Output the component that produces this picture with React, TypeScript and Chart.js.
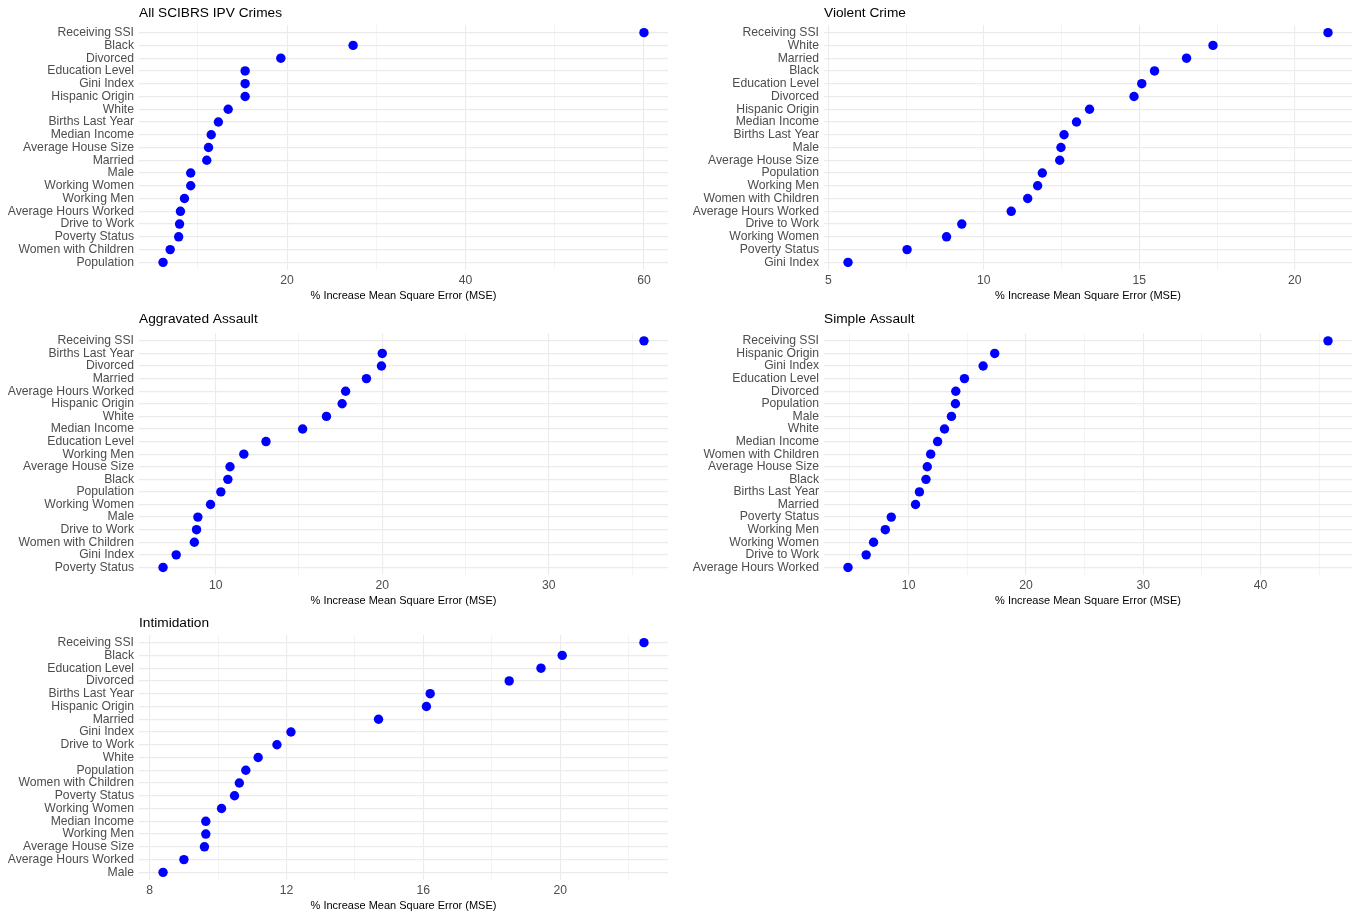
import React, { useEffect, useRef } from "react";
import { Chart, registerables } from "chart.js";

Chart.register(...registerables);

// ---------- Data ----------
const allCrimesCats = ["Receiving SSI", "Black", "Divorced", "Education Level", "Gini Index", "Hispanic Origin", "White", "Births Last Year", "Median Income", "Average House Size", "Married", "Male", "Working Women", "Working Men", "Average Hours Worked", "Drive to Work", "Poverty Status", "Women with Children", "Population"];
const allCrimesVals = [60.0, 27.4, 19.3, 15.3, 15.3, 15.3, 13.4, 12.3, 11.5, 11.2, 11.0, 9.2, 9.2, 8.5, 8.05, 7.95, 7.85, 6.9, 6.1];

const violentCats = ["Receiving SSI", "White", "Married", "Black", "Education Level", "Divorced", "Hispanic Origin", "Median Income", "Births Last Year", "Male", "Average House Size", "Population", "Working Men", "Women with Children", "Average Hours Worked", "Drive to Work", "Working Women", "Poverty Status", "Gini Index"];
const violentVals = [21.07, 17.37, 16.52, 15.49, 15.08, 14.83, 13.4, 12.98, 12.58, 12.48, 12.44, 11.88, 11.73, 11.41, 10.88, 9.29, 8.8, 7.53, 5.63];

const aggravatedCats = ["Receiving SSI", "Births Last Year", "Divorced", "Married", "Average Hours Worked", "Hispanic Origin", "White", "Median Income", "Education Level", "Working Men", "Average House Size", "Black", "Population", "Working Women", "Male", "Drive to Work", "Women with Children", "Gini Index", "Poverty Status"];
const aggravatedVals = [35.71, 20.0, 19.95, 19.05, 17.8, 17.59, 16.65, 15.22, 13.02, 11.69, 10.86, 10.73, 10.31, 9.69, 8.93, 8.85, 8.72, 7.63, 6.84];

const simpleCats = ["Receiving SSI", "Hispanic Origin", "Gini Index", "Education Level", "Divorced", "Population", "Male", "White", "Median Income", "Women with Children", "Average House Size", "Black", "Births Last Year", "Married", "Poverty Status", "Working Men", "Working Women", "Drive to Work", "Average Hours Worked"];
const simpleVals = [45.76, 17.34, 16.35, 14.76, 14.02, 13.99, 13.65, 13.06, 12.47, 11.88, 11.59, 11.48, 10.92, 10.59, 8.52, 8.01, 7.01, 6.38, 4.83];

const intimidationCats = ["Receiving SSI", "Black", "Education Level", "Divorced", "Births Last Year", "Hispanic Origin", "Married", "Gini Index", "Drive to Work", "White", "Population", "Women with Children", "Poverty Status", "Working Women", "Median Income", "Working Men", "Average House Size", "Average Hours Worked", "Male"];
const intimidationVals = [22.45, 20.06, 19.44, 18.51, 16.2, 16.09, 14.69, 12.13, 11.72, 11.17, 10.81, 10.62, 10.48, 10.1, 9.64, 9.64, 9.6, 9.0, 8.39];

const panelTitles = ["All SCIBRS IPV Crimes", "Violent Crime", "Aggravated Assault", "Simple Assault", "Intimidation"];
const majorSteps = [20, 5, 10, 10, 4];
const xAxisTitle = "% Increase Mean Square Error (MSE)";

// ---------- Styles ----------
const FONT = '"Liberation Sans", Arial, Helvetica, sans-serif';
const GRID = "#EBEBEB";
const TEXT_GREY = "#4D4D4D";
const POINT = "#0000FF";

type Layout = { width: number; plotLeft: number; padRight: number; padTop: number; titleGap: number };

const LEFT_ROW: Layout = { width: 680, plotLeft: 139, padRight: 12, padTop: 0, titleGap: 3.56 };
const RIGHT_ROW: Layout = { width: 679, plotLeft: 144, padRight: 7, padTop: 0, titleGap: 3.56 };

function Panel(props: { title: string; cats: string[]; vals: number[]; major: number; layout: Layout }) {
  const ref = useRef<HTMLCanvasElement | null>(null);
  const { title, cats, vals, major, layout } = props;

  useEffect(() => {
    if (!ref.current) return;
    const minor = major / 2;
    const lo = Math.min(...vals);
    const hi = Math.max(...vals);
    const pad = (hi - lo) * 0.05;
    const xMin = lo - pad;
    const xMax = hi + pad;
    const isMajor = (v: number) => Math.abs(v / major - Math.round(v / major)) < 1e-6;
    const xTicks: { value: number }[] = [];
    for (let k = Math.ceil(xMin / minor); k * minor <= xMax; k++) {
      xTicks.push({ value: Math.round(k * minor * 1000) / 1000 });
    }

    const chart = new Chart(ref.current, {
      type: "scatter",
      data: {
        datasets: [
          {
            data: vals.map((v, i) => ({ x: v, y: i })),
            pointRadius: 4.7,
            pointHoverRadius: 4.7,
            pointBackgroundColor: POINT,
            pointBorderWidth: 0,
            borderWidth: 0,
          },
        ],
      },
      options: {
        animation: false,
        responsive: false,
        maintainAspectRatio: false,
        events: [],
        layout: { padding: { left: 0, right: layout.padRight, top: layout.padTop, bottom: 0 } },
        plugins: {
          legend: { display: false },
          tooltip: { enabled: false },
          title: {
            display: true,
            text: title,
            align: "start",
            fullSize: false,
            color: "#000000",
            font: { family: FONT, size: 13.7, weight: "normal" },
            padding: { top: 5, bottom: layout.titleGap },
          },
        },
        scales: {
          x: {
            type: "linear",
            position: "bottom",
            min: xMin,
            max: xMax,
            afterBuildTicks: (s: any) => {
              s.ticks = xTicks.map((t) => ({ value: t.value }));
            },
            afterFit: (s: any) => {
              s.height = 35;
            },
            ticks: {
              autoSkip: false,
              maxRotation: 0,
              padding: 3.5,
              color: TEXT_GREY,
              font: { family: FONT, size: 12.2 },
              callback: (v: any) => (isMajor(Number(v)) ? String(Math.round(Number(v) * 100) / 100) : ""),
            },
            grid: {
              color: GRID,
              drawTicks: false,
              lineWidth: (ctx: any) => (ctx.tick && isMajor(ctx.tick.value) ? 1.1 : 0.55),
            },
            border: { display: false },
            title: {
              display: true,
              text: xAxisTitle,
              color: "#000000",
              font: { family: FONT, size: 11 },
              padding: { top: 0, bottom: 2.5 },
            },
          },
          y: {
            type: "linear",
            reverse: true,
            min: -0.6,
            max: cats.length - 1 + 0.6,
            afterBuildTicks: (s: any) => {
              s.ticks = cats.map((_, i) => ({ value: i }));
            },
            afterFit: (s: any) => {
              s.width = layout.plotLeft;
            },
            ticks: {
              autoSkip: false,
              padding: 5,
              color: TEXT_GREY,
              font: { family: FONT, size: 12.2 },
              callback: (v: any) => cats[Math.round(Number(v))] ?? "",
            },
            grid: { color: GRID, drawTicks: false, lineWidth: 1.2 },
            border: { display: false },
          },
        },
      } as any,
    });
    return () => chart.destroy();
  }, [title, cats, vals, major, layout]);

  return <canvas ref={ref} width={layout.width} height={305} style={{ display: "block", width: layout.width, height: 305 }} />;
}

const ROW2_LEFT: Layout = { ...LEFT_ROW, padTop: 1, titleGap: 5.86 };
const ROW2_RIGHT: Layout = { ...RIGHT_ROW, padTop: 1, titleGap: 5.86 };

export default function App() {
  return (
    <div
      style={{
        position: "absolute",
        left: 0,
        top: 0,
        width: 1359,
        height: 915,
        background: "#ffffff",
        display: "grid",
        gridTemplateColumns: "680px 679px",
        gridTemplateRows: "305px 305px 305px",
        overflow: "hidden",
      }}
    >
      <Panel title={panelTitles[0]} cats={allCrimesCats} vals={allCrimesVals} major={majorSteps[0]} layout={LEFT_ROW} />
      <Panel title={panelTitles[1]} cats={violentCats} vals={violentVals} major={majorSteps[1]} layout={RIGHT_ROW} />
      <Panel title={panelTitles[2]} cats={aggravatedCats} vals={aggravatedVals} major={majorSteps[2]} layout={ROW2_LEFT} />
      <Panel title={panelTitles[3]} cats={simpleCats} vals={simpleVals} major={majorSteps[3]} layout={ROW2_RIGHT} />
      <Panel title={panelTitles[4]} cats={intimidationCats} vals={intimidationVals} major={majorSteps[4]} layout={LEFT_ROW} />
      <div />
    </div>
  );
}
